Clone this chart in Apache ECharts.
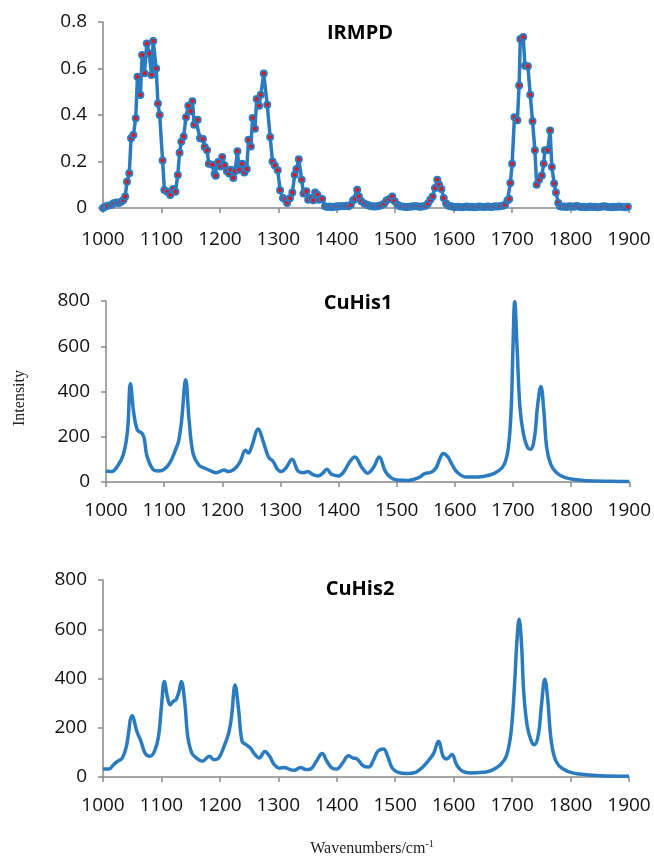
<!DOCTYPE html>
<html>
<head>
<meta charset="utf-8">
<script src="https://cdn.jsdelivr.net/npm/echarts@6/dist/echarts.min.js"></script>
<style>
  html, body { margin: 0; padding: 0; background: #fff; }
  #chart { width: 654px; height: 859px; }
</style>
</head>
<body>
<div id="chart"></div>
<script>
// IRMPD spectrum (wavenumber, yield)
const irX = [1000, 1004, 1008, 1014, 1018, 1023, 1027, 1031, 1035, 1038, 1041, 1045, 1048, 1052, 1056, 1059, 1064, 1067, 1071, 1075, 1079, 1083, 1086, 1091, 1094, 1097, 1102, 1105, 1110, 1115, 1120, 1124, 1128, 1131, 1134, 1138, 1142, 1146,
  1150, 1153, 1156, 1159, 1162, 1166, 1171, 1174, 1178, 1181, 1187, 1191, 1193, 1197, 1201, 1204, 1208, 1212, 1216, 1219, 1223, 1226, 1230, 1233, 1238, 1242, 1246, 1249, 1253, 1256, 1260, 1263, 1267, 1270, 1275, 1281, 1286, 1290, 1294, 1299, 1303, 1308, 1312, 1315, 1320, 1324, 1328, 1331, 1335, 1340, 1343, 1348, 1351, 1356, 1360, 1363, 1367, 1370, 1375, 1380,
  1384, 1388, 1392, 1396, 1400, 1404, 1408, 1412, 1416, 1420,
  1424, 1428, 1431, 1435, 1438, 1442, 1447, 1452,
  1456, 1460, 1464, 1468, 1472, 1476, 1481,
  1485, 1490, 1495, 1499, 1504,
  1508, 1512, 1516, 1520, 1524, 1528, 1532, 1536, 1540, 1544, 1548, 1552,
  1556, 1560, 1564, 1568, 1572, 1575, 1579, 1583, 1587,
  1591, 1595, 1599, 1603, 1607, 1611, 1615, 1619, 1623, 1627, 1631, 1635, 1639, 1643, 1647, 1651, 1655, 1659, 1663, 1667, 1671, 1675, 1679, 1684,
  1688, 1692, 1695, 1697, 1700, 1704, 1709, 1712, 1714, 1719, 1722, 1727, 1731, 1735, 1739, 1742, 1746, 1751, 1754, 1756, 1761, 1765, 1768, 1772, 1775, 1779, 1782,
  1786, 1790, 1794, 1798, 1802, 1806, 1810, 1814, 1818, 1822, 1826, 1830, 1834, 1838, 1842, 1846, 1850, 1854, 1858, 1862, 1866, 1870, 1874, 1878, 1882, 1886, 1890, 1894, 1898];
const irY = [0.000, 0.006, 0.010, 0.013, 0.020, 0.024, 0.022, 0.027, 0.034, 0.049, 0.113, 0.150, 0.300, 0.314, 0.386, 0.565, 0.486, 0.658, 0.580, 0.708, 0.665, 0.572, 0.718, 0.600, 0.450, 0.400, 0.204, 0.077, 0.070, 0.056, 0.082, 0.070, 0.142, 0.238, 0.285, 0.307, 0.390, 0.440,
  0.416, 0.459, 0.358, 0.377, 0.380, 0.300, 0.297, 0.262, 0.248, 0.190, 0.186, 0.146, 0.139, 0.198, 0.179, 0.219, 0.184, 0.158, 0.148, 0.165, 0.129, 0.158, 0.244, 0.165, 0.190, 0.153, 0.168, 0.294, 0.265, 0.387, 0.341, 0.469, 0.440, 0.487, 0.578, 0.444, 0.305, 0.200, 0.183, 0.162, 0.076, 0.043, 0.036, 0.022, 0.042, 0.067, 0.143, 0.168, 0.210, 0.122, 0.062, 0.072, 0.036, 0.043, 0.033, 0.067, 0.057, 0.036, 0.039, 0.007,
  0.004, 0.006, 0.003, 0.005, 0.008, 0.006, 0.009, 0.007, 0.010, 0.008,
  0.014, 0.033, 0.039, 0.079, 0.050, 0.029, 0.019, 0.014,
  0.010, 0.008, 0.006, 0.007, 0.009, 0.012, 0.018,
  0.032, 0.039, 0.050, 0.029, 0.014,
  0.008, 0.006, 0.005, 0.004, 0.005, 0.006, 0.008, 0.007, 0.006, 0.005, 0.007, 0.010,
  0.019, 0.036, 0.050, 0.086, 0.122, 0.100, 0.082, 0.043, 0.019,
  0.010, 0.007, 0.005, 0.004, 0.005, 0.004, 0.003, 0.005, 0.006, 0.004, 0.005, 0.003, 0.004, 0.006, 0.005, 0.004, 0.005, 0.006, 0.004, 0.005, 0.007, 0.006, 0.008, 0.010,
  0.014, 0.032, 0.039, 0.107, 0.190, 0.390, 0.377, 0.527, 0.727, 0.735, 0.612, 0.610, 0.487, 0.373, 0.248, 0.100, 0.122, 0.140, 0.190, 0.248, 0.250, 0.333, 0.176, 0.105, 0.067, 0.022, 0.007,
  0.005, 0.006, 0.004, 0.008, 0.006, 0.005, 0.009, 0.006, 0.004, 0.005, 0.003, 0.004, 0.006, 0.004, 0.005, 0.003, 0.004, 0.006, 0.008, 0.005, 0.004, 0.003, 0.005, 0.004, 0.006, 0.005, 0.004, 0.003, 0.005];

// CuHis1 computed spectrum
const cu1X = [1000, 1010, 1020, 1030, 1037, 1042, 1048, 1054, 1062, 1066, 1070, 1080, 1090, 1100, 1110, 1120, 1125, 1130, 1137, 1143, 1150, 1160, 1170, 1180, 1190, 1203, 1210, 1220, 1230, 1240, 1245, 1250, 1262, 1270, 1280, 1287, 1295, 1302, 1310, 1320, 1330, 1340, 1347, 1355, 1365, 1372, 1380, 1388, 1400, 1410, 1420, 1428, 1440, 1450, 1460, 1470, 1480, 1490, 1500, 1520, 1530, 1540, 1548, 1560, 1568, 1575, 1580, 1588, 1595, 1605, 1620, 1640, 1660, 1675, 1685, 1692, 1697, 1700, 1703, 1707, 1712, 1718, 1725, 1730, 1737, 1742, 1748, 1753, 1758, 1765, 1775, 1790, 1810, 1840, 1870, 1900];
const cu1Y = [49, 46, 71, 123, 227, 434, 300, 230, 215, 190, 120, 59, 49, 56, 86, 145, 182, 271, 452, 271, 123, 74, 61, 49, 41, 53, 46, 56, 86, 140, 128, 152, 234, 182, 108, 93, 56, 46, 64, 101, 49, 41, 46, 34, 27, 37, 56, 34, 27, 49, 93, 111, 64, 39, 64, 111, 49, 19, 9, 7, 12, 22, 37, 44, 64, 108, 126, 111, 78, 41, 22, 22, 31, 49, 78, 152, 330, 597, 797, 597, 330, 212, 152, 145, 197, 330, 422, 316, 152, 78, 41, 19, 10, 4, 3, 2];

// CuHis2 computed spectrum
const cu2X = [1000, 1010, 1018, 1025, 1033, 1040, 1050, 1058, 1065, 1072, 1080, 1088, 1095, 1100, 1105, 1110, 1115, 1120, 1125, 1130, 1134, 1140, 1145, 1152, 1160, 1170, 1182, 1190, 1198, 1207, 1215, 1220, 1226, 1232, 1238, 1245, 1252, 1260, 1267, 1277, 1285, 1293, 1302, 1310, 1320, 1327, 1338, 1347, 1355, 1365, 1375, 1383, 1392, 1400, 1410, 1420, 1428, 1435, 1445, 1455, 1463, 1470, 1480, 1487, 1495, 1505, 1520, 1535, 1548, 1558, 1566, 1574, 1582, 1588, 1597, 1605, 1615, 1630, 1650, 1665, 1680, 1690, 1698, 1704, 1708, 1712, 1716, 1720, 1726, 1733, 1738, 1745, 1750, 1756, 1761, 1766, 1772, 1780, 1795, 1815, 1850, 1900];
const cu2Y = [32, 32, 50, 64, 77, 124, 249, 185, 145, 97, 84, 104, 165, 286, 388, 327, 293, 307, 314, 347, 388, 300, 165, 97, 77, 64, 84, 70, 77, 124, 178, 246, 374, 273, 145, 131, 118, 91, 77, 104, 84, 50, 36, 39, 30, 27, 39, 30, 32, 64, 95, 64, 36, 32, 57, 86, 77, 73, 46, 41, 70, 104, 114, 84, 36, 19, 14, 19, 43, 70, 97, 145, 84, 73, 91, 50, 23, 16, 19, 27, 50, 84, 178, 368, 543, 641, 543, 341, 205, 145, 131, 172, 286, 397, 314, 165, 84, 46, 23, 12, 5, 3];

const xTicks = [1000, 1100, 1200, 1300, 1400, 1500, 1600, 1700, 1800, 1900];

const blue = '#2a7bbf';
const axisGray = '#898989';
const labelFont = { fontFamily: 'Open Sans', fontSize: 19, color: '#111' };

function pairs(xs, ys) {
  return xs.map((x, i) => [x, ys[i]]);
}

function makeX(gridIndex, margin) {
  return {
    type: 'value', gridIndex, min: xTicks[0], max: xTicks[xTicks.length - 1], interval: 100,
    axisLine: { lineStyle: { color: axisGray, width: 1.5 } },
    axisTick: { show: true, length: 5, lineStyle: { color: axisGray, width: 1.5 } },
    axisLabel: Object.assign({ margin, formatter: v => String(v) }, labelFont),
    splitLine: { show: false }
  };
}

function makeY(gridIndex, max, interval, fmt) {
  return {
    type: 'value', gridIndex, min: 0, max, interval,
    axisLine: { show: true, lineStyle: { color: axisGray, width: 1.5 } },
    axisTick: { show: true, length: 5, lineStyle: { color: axisGray, width: 1.5 } },
    axisLabel: Object.assign({ margin: 16, formatter: fmt || (v => String(v)) }, labelFont),
    splitLine: { show: false }
  };
}

const chart = echarts.init(document.getElementById('chart'), null, { renderer: 'canvas' });

const option = {
  animation: false,
  backgroundColor: '#fff',
  grid: [
    { left: 103, right: 25, top: 22, height: 186 },
    { left: 106, right: 24, top: 301, height: 181 },
    { left: 103, right: 25, top: 580, height: 197 }
  ],
  xAxis: [makeX(0, 22), makeX(1, 19), makeX(2, 19)],
  yAxis: [
    makeY(0, 0.8, 0.2, v => v === 0 ? '0' : v.toFixed(1)),
    makeY(1, 800, 200),
    makeY(2, 800, 200)
  ],
  series: [
    {
      type: 'line', xAxisIndex: 0, yAxisIndex: 0,
      data: pairs(irX, irY),
      lineStyle: { color: blue, width: 3.5 },
      symbol: 'circle', symbolSize: 6, showAllSymbol: true,
      itemStyle: { color: '#e8141c', borderColor: blue, borderWidth: 2 }
    },
    {
      type: 'line', xAxisIndex: 1, yAxisIndex: 1,
      data: pairs(cu1X, cu1Y), smooth: 0.4,
      showSymbol: false,
      lineStyle: { color: blue, width: 3.5 }
    },
    {
      type: 'line', xAxisIndex: 2, yAxisIndex: 2,
      data: pairs(cu2X, cu2Y), smooth: 0.4,
      showSymbol: false,
      lineStyle: { color: blue, width: 3.5 }
    }
  ],
  graphic: [
    { type: 'text', x: 360, y: 33, style: { text: 'IRMPD', font: 'bold 20px "Open Sans"', fill: '#000', align: 'center', verticalAlign: 'middle' } },
    { type: 'text', x: 358, y: 303, style: { text: 'CuHis1', font: 'bold 20px "Open Sans"', fill: '#000', align: 'center', verticalAlign: 'middle' } },
    { type: 'text', x: 360, y: 589, style: { text: 'CuHis2', font: 'bold 20px "Open Sans"', fill: '#000', align: 'center', verticalAlign: 'middle' } },
    { type: 'text', x: 20, y: 398, rotation: Math.PI / 2, style: { text: 'Intensity', font: '16px "Liberation Serif"', fill: '#222', align: 'center', verticalAlign: 'middle' } },
    {
      type: 'text', x: 372, y: 849,
      style: {
        text: '{a|Wavenumbers/cm}{b|-1}',
        align: 'center', verticalAlign: 'middle',
        rich: {
          a: { fontFamily: 'Liberation Serif', fontSize: 16, fill: '#222', lineHeight: 20 },
          b: { fontFamily: 'Liberation Serif', fontSize: 10, fill: '#222', verticalAlign: 'top', lineHeight: 20 }
        }
      }
    }
  ]
};

chart.setOption(option);
</script>
</body>
</html>
